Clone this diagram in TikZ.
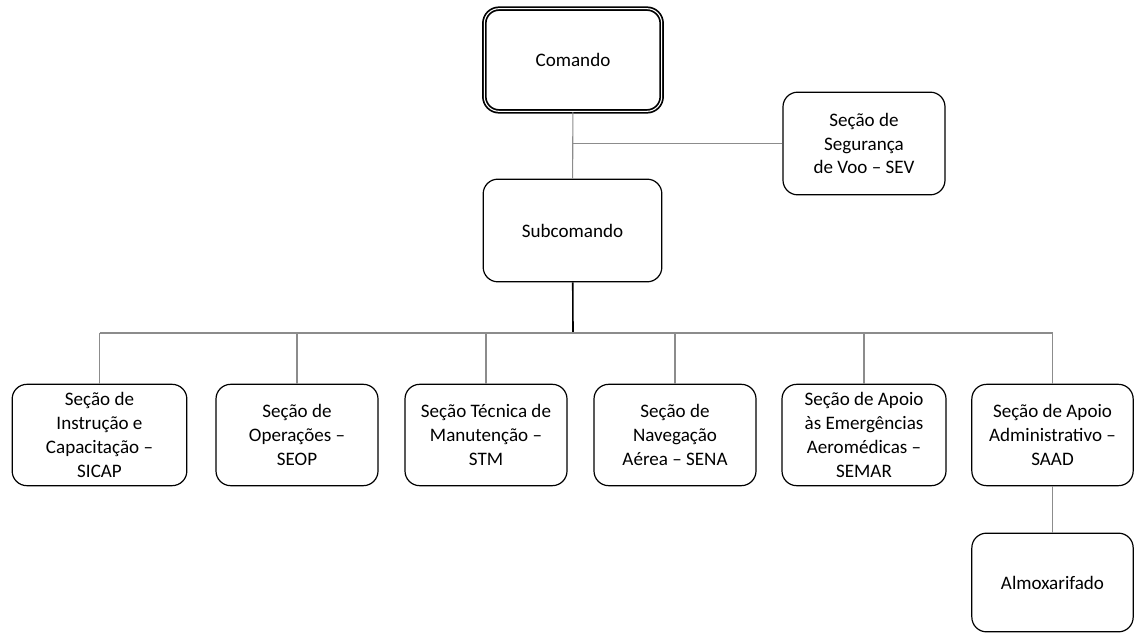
\documentclass[tikz,border=0pt]{standalone}
\usepackage{fontspec}
\setmainfont{Carlito}
\usetikzlibrary{calc}
\tikzset {unit/.style={draw,rounded corners=11pt,line width=0.9pt,
    align=center,inner sep=0pt,font=\fontsize{14.3}{17.8}\selectfont},
  link/.style={draw=black!45,line width=0.8pt},
  mainlink/.style={draw=black,line width=1.2pt}}

\begin{document}
\begin{tikzpicture}[x=0.75pt,y=-0.75pt]
\useasboundingbox (0,0) rectangle (1135,634);
\node[unit,double,double distance=0.8pt,line width=1.3pt,
  minimum width=133pt,minimum height=77pt] (cmd) at (573,60) {Comando};
\node[unit,minimum width=121.5pt,minimum height=77pt] (sev) at (864,143.5)
  {Seção de\\Segurança\\de Voo – SEV};
\node[unit,minimum width=134pt,minimum height=77pt] (sub) at (572.5,230.5)
  {Subcomando};
\node[unit,minimum width=131pt,minimum height=76pt] (sicap) at (99.5,435)
  {Seção de\\Instrução e\\Capacitação –\\SICAP};
\node[unit,minimum width=121.5pt,minimum height=76pt] (seop) at (297,435)
  {Seção de\\Operações –\\SEOP};
\node[unit,minimum width=121.5pt,minimum height=76pt] (stm) at (486,435)
  {Seção Técnica de\\Manutenção –\\STM};
\node[unit,minimum width=121.5pt,minimum height=76pt] (sena) at (675,435)
  {Seção de\\Navegação\\Aérea – SENA};
\node[unit,minimum width=123pt,minimum height=76pt] (semar) at (864,435)
  {Seção de Apoio\\às Emergências\\Aeromédicas –\\SEMAR};
\node[unit,minimum width=121pt,minimum height=76pt] (saad) at (1052.5,435)
  {Seção de Apoio\\Administrativo –\\SAAD};
\node[unit,minimum width=121pt,minimum height=74pt] (almox) at (1052.5,582.5)
  {Almoxarifado};
\coordinate (bus) at (573,333);
% command line
\draw[link] (cmd) -- (sub);
\draw[link] (cmd.south |- sev.west) -- (sev.west);
% sections
\draw[mainlink] (sub) -- (bus);
\draw[link] (sicap.north |- bus) -- (saad.north |- bus);
\foreach \s in {sicap,seop,stm,sena,semar,saad}
  \draw[link] (\s.north |- bus) -- (\s.north);
\draw[link] (saad) -- (almox);
\end{tikzpicture}
\end{document}
